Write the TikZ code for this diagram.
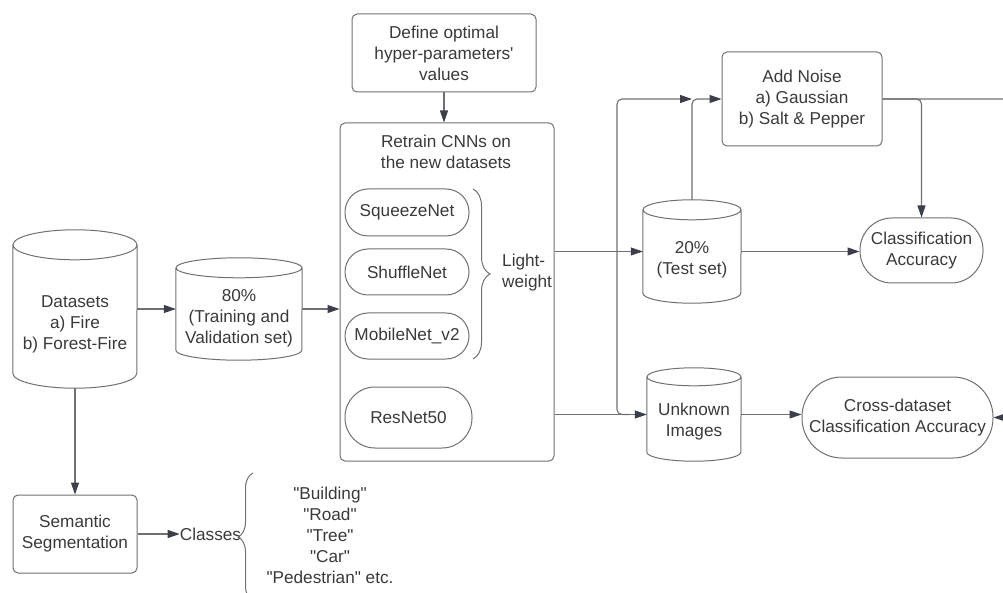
\documentclass[tikz,border=0pt]{standalone}
\usepackage{fontspec}
\newfontfamily\lsans{Liberation Sans}
\usetikzlibrary{arrows.meta,calc,decorations.pathreplacing}
\definecolor{ln}{HTML}{707070}
\definecolor{tx}{HTML}{3A3A3A}
\definecolor{ah}{HTML}{3A3F4A}
\tikzset{
 every node/.style={font=\lsans\fontsize{17.2}{21}\selectfont, text=tx},
 box/.style={draw=ln, line width=1pt, rounded corners=5pt, align=center, inner sep=0pt},
 stad/.style={draw=ln, line width=1pt, align=center, inner sep=0pt},
 cylb/.style={inner sep=0pt},
 txt/.style={align=center, inner sep=0pt},
 conn/.style={draw=ln, line width=1.1pt, rounded corners=5pt},
 arr/.style={conn, -{Triangle[length=12pt,width=8pt,color=ah]}},
 brc/.style={draw=ln, line width=1pt, decorate},
}
\newcommand\cyl[3]{% name, rx, ry
 \draw[draw=ln, line width=1pt] let \p1=(#1.north west), \p2=(#1.south east) in
  (\x1,{\y1-#3pt}) -- (\x1,{\y2+#3pt})
  arc[start angle=180, end angle=360, x radius=#2pt, y radius=#3pt]
  -- (\x2,{\y1-#3pt})
  ({(\x1+\x2)/2},{\y1-#3pt}) ellipse[x radius=#2pt, y radius=#3pt];
}
\begin{document}
\begin{tikzpicture}[x=1pt,y=-1pt]
\useasboundingbox (0,0) rectangle (1003,593);
\begin{scope}
\clip (0,0) rectangle (1003,593);
% nodes
\node[box, minimum width=184pt, minimum height=78pt] (def) at (444,53) {Define optimal\\hyper-parameters'\\values};
\node[box, minimum width=214pt, minimum height=338pt] (rt) at (447,292) {};
\node[txt] (rtt) at (446,152) {Retrain CNNs on\\the new datasets};
\node[stad, rounded corners=23pt, minimum width=124pt, minimum height=47pt] (sq) at (407,212.5) {SqueezeNet};
\node[stad, rounded corners=23pt, minimum width=124pt, minimum height=46pt] (sh) at (407,272) {ShuffleNet};
\node[stad, rounded corners=23pt, minimum width=124pt, minimum height=46pt] (mb) at (407,336) {MobileNet\_v2};
\node[stad, rounded corners=30pt, minimum width=127pt, minimum height=61pt] (rn) at (408.5,417.5) {ResNet50};
\draw[brc, decoration={brace, amplitude=17pt}] (473,189) -- (473,359);
\node[txt, align=left, anchor=west] (lw) at (502,273) {Light-\\weight};

\node[cylb, minimum width=124pt, minimum height=158pt] (ds) at (75,309) {};
\node[txt] (dst) at (75,324) {Datasets\\a) Fire\\b) Forest-Fire};
\cyl{ds}{62}{15}
\node[cylb, minimum width=126pt, minimum height=102pt] (tv) at (239,309) {};
\node[txt] (tvt) at (239,318) {80\%\\(Training and\\Validation set)};
\cyl{tv}{63}{10}
\node[cylb, minimum width=98pt, minimum height=103pt] (ts) at (692,251.5) {};
\node[txt] (tst) at (692,260) {20\%\\(Test set)};
\cyl{ts}{49}{10}
\node[cylb, minimum width=94pt, minimum height=93pt] (uk) at (694,414.5) {};
\node[txt] (ukt) at (694,422) {Unknown\\Images};
\cyl{uk}{47}{9}

\node[box, minimum width=160pt, minimum height=94pt] (an) at (802,99) {Add Noise\\a) Gaussian\\b) Salt \& Pepper};
\node[stad, rounded corners=32pt, minimum width=123pt, minimum height=65pt] (ca) at (921.5,250.5) {Classification\\Accuracy};
\node[stad, rounded corners=40pt, minimum width=191pt, minimum height=81pt] (cd) at (897.5,417.5) {Cross-dataset\\Classification Accuracy};
\node[box, minimum width=124pt, minimum height=78pt] (seg) at (75,534) {Semantic\\Segmentation};
\node[txt] (cl) at (210.5,534) {Classes};
\draw[brc, decoration={brace, amplitude=15pt, mirror}] (253,473) -- (253,601);
\node[txt] (cls) at (330,535) {"Building"\\"Road"\\"Tree"\\"Car"\\"Pedestrian" etc.};

% connectors
\draw[arr] (def.south) -- (def.south |- rt.north);
\draw[arr] (ds) -- (tv);
\draw[arr] (tv.east) -- (tv.east -| rt.west);
\draw[arr, line width=0.6pt] (ts.west -| rt.east) -- (ts.west);
\draw[arr] (uk.west -| rt.east) -- (uk.west);
\coordinate (j1) at (617,414.5);
\coordinate (j2) at (ts.north |- an.west);
\draw[arr] ($(j1)+(12,0)$) -- (j1) -- (j1 |- an.west) -- (j2);
\draw[arr] (ts.north) -- (j2) -- (an.west);
\draw[arr] (an.east) -| (ca.north);
\coordinate (rc) at (1015,99);
\draw[arr] (an.east) -- (rc) |- (cd.east);
\draw[arr] (ts.east) -- (ts.east -| ca.west);
\draw[arr] (uk.east) -- (uk.east -| cd.west);
\draw[arr] (ds.south) -- (seg.north);
\draw[arr] (seg.east) -- (cl.west);
\end{scope}
\end{tikzpicture}
\end{document}
